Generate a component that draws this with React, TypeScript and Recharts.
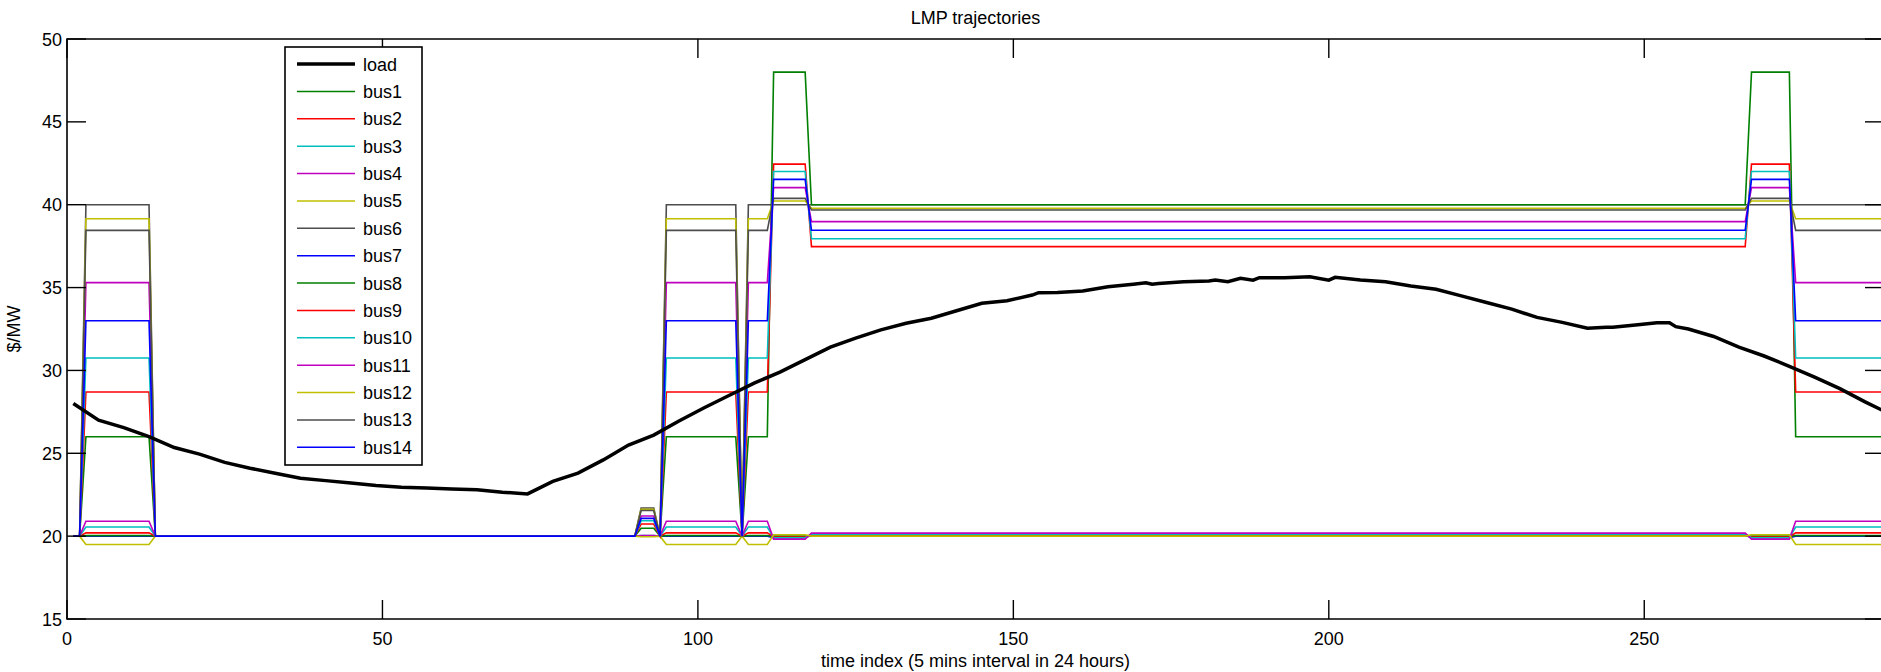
import { LineChart, Line, XAxis, YAxis, ReferenceArea } from 'recharts';

const CHART_W = 1890;
const CHART_H = 672;
const PLOT_LEFT = 67;
const PLOT_TOP = 39;
const PLOT_RIGHT_GAP = 6;
const PLOT_BOTTOM_GAP = 53;
const PLOT_W = CHART_W - PLOT_LEFT - PLOT_RIGHT_GAP;
const PLOT_H = CHART_H - PLOT_TOP - PLOT_BOTTOM_GAP;
const X_AXIS_H = 30;
const Y_AXIS_W = 60;
const X_TICK_MARGIN = 26;
const Y_TICK_MARGIN = 5;
const TICK_LEN = 19;
const FONT = '"Liberation Sans", Arial, Helvetica, sans-serif';

const xTicks = [0, 50, 100, 150, 200, 250];
const yTicks = [15, 20, 25, 30, 35, 40, 45, 50];

// system load (scaled to the price axis), read roughly every 4th interval
const loadIdx = [
  1, 5, 9, 13, 17, 21, 25, 29, 33, 37, 41, 45, 49, 53, 57, 61, 65, 69, 73, 77,
  81, 85, 89, 93, 97, 101, 105, 109, 113, 117, 121, 125, 129, 133, 137, 141,
  145, 149, 153, 154, 157, 161, 165, 169, 171, 172, 173, 177, 181, 182, 184,
  186, 188, 189, 193, 197, 200, 201, 205, 209, 213, 217, 221, 225, 229, 233,
  237, 241, 244, 245, 249, 252, 254, 255, 257, 261, 265, 269, 273, 277, 281,
  285, 288,
];
const loadVal = [
  28.0, 27.0, 26.55, 26.0, 25.35, 24.95, 24.45, 24.1, 23.8, 23.5, 23.35, 23.2,
  23.05, 22.95, 22.9, 22.85, 22.8, 22.65, 22.55, 23.3, 23.8, 24.6, 25.5, 26.1,
  26.95, 27.75, 28.5, 29.25, 29.9, 30.65, 31.4, 31.95, 32.45, 32.85, 33.15,
  33.6, 34.05, 34.2, 34.55, 34.69, 34.7, 34.8, 35.05, 35.2, 35.29, 35.2, 35.25,
  35.35, 35.4, 35.45, 35.35, 35.56, 35.45, 35.6, 35.6, 35.65, 35.45, 35.62,
  35.45, 35.35, 35.1, 34.9, 34.5, 34.1, 33.7, 33.2, 32.9, 32.55, 32.6, 32.6,
  32.75, 32.88, 32.88, 32.64, 32.5, 32.05, 31.4, 30.87, 30.25, 29.6, 28.9,
  28.1, 27.55,
];

// intervals where the bus prices switch level, and which level they sit at
const busIdx = [1, 2, 3, 13, 14, 90, 91, 93, 94, 95, 106, 107, 108, 111, 112, 117, 118, 266, 267, 273, 274, 288];
const busPhase = [
  'base', 'base', 'block', 'block', 'base', 'base', 'bump', 'bump', 'base', 'block', 'block',
  'base', 'block', 'block', 'peak', 'peak', 'mid', 'mid', 'peak', 'peak', 'block', 'block',
];
const BASE_PRICE = 20;

// price per bus at each level: [block, bump, peak, mid]
const bus1 = [20.03, 20.01, 20.0, 20.03];
const bus2 = [20.2, 20.02, 19.95, 20.07];
const bus3 = [20.55, 20.03, 19.9, 20.12];
const bus4 = [20.9, 20.04, 19.82, 20.18];
const bus5 = [19.5, 19.96, 20.08, 20.0];
const bus6 = [40.0, 21.7, 40.0, 40.0];
const bus7 = [20.0, 20.0, 19.9, 20.05];
const bus8 = [26.0, 20.48, 48.0, 40.0];
const bus9 = [28.7, 20.73, 42.45, 37.47];
const bus10 = [30.75, 20.93, 42.0, 37.95];
const bus11 = [35.3, 21.22, 41.03, 38.98];
const bus12 = [39.15, 21.62, 40.22, 39.78];
const bus13 = [38.45, 21.55, 40.38, 39.68];
const bus14 = [33.0, 21.07, 41.53, 38.46];

const GREEN = '#008000';
const RED = '#ff0000';
const CYAN = '#00bfbf';
const MAGENTA = '#bf00bf';
const YELLOW = '#bfbf00';
const GRAY = '#4d4d4d';
const BLUE = '#0000ff';

const buses = [
  { name: 'bus1', color: GREEN, levels: bus1 },
  { name: 'bus2', color: RED, levels: bus2 },
  { name: 'bus3', color: CYAN, levels: bus3 },
  { name: 'bus4', color: MAGENTA, levels: bus4 },
  { name: 'bus5', color: YELLOW, levels: bus5 },
  { name: 'bus6', color: GRAY, levels: bus6 },
  { name: 'bus7', color: BLUE, levels: bus7 },
  { name: 'bus8', color: GREEN, levels: bus8 },
  { name: 'bus9', color: RED, levels: bus9 },
  { name: 'bus10', color: CYAN, levels: bus10 },
  { name: 'bus11', color: MAGENTA, levels: bus11 },
  { name: 'bus12', color: YELLOW, levels: bus12 },
  { name: 'bus13', color: GRAY, levels: bus13 },
  { name: 'bus14', color: BLUE, levels: bus14 },
];

const slot: Record<string, number> = { block: 0, bump: 1, peak: 2, mid: 3 };

const loadData = loadIdx.map((x, i) => ({ x, y: loadVal[i] }));
const busData = (levels: number[]) =>
  busIdx.map((x, i) => ({ x, y: busPhase[i] === 'base' ? BASE_PRICE : levels[slot[busPhase[i]]] }));

// bus7 sits under bus1 at the 20 line
const drawOrder = ['bus7', 'bus1', 'bus2', 'bus3', 'bus4', 'bus5', 'bus6', 'bus8', 'bus9', 'bus10', 'bus11', 'bus12', 'bus13', 'bus14'];

function BottomTick(props: any) {
  const { x, y, payload } = props;
  const axisY = y - X_TICK_MARGIN;
  return (
    <g>
      <line x1={x} x2={x} y1={axisY} y2={axisY - TICK_LEN} stroke="#000" strokeWidth={1.4} />
      <line x1={x} x2={x} y1={axisY - PLOT_H} y2={axisY - PLOT_H + TICK_LEN} stroke="#000" strokeWidth={1.4} />
      <text x={x} y={y} textAnchor="middle" fontSize={18} fontFamily={FONT} fill="#000">
        {payload.value}
      </text>
    </g>
  );
}

function LeftTick(props: any) {
  const { x, y, payload } = props;
  const axisX = x + Y_TICK_MARGIN;
  return (
    <g>
      <line x1={axisX} x2={axisX + TICK_LEN} y1={y} y2={y} stroke="#000" strokeWidth={1.4} />
      <line x1={axisX + PLOT_W - TICK_LEN} x2={axisX + PLOT_W} y1={y} y2={y} stroke="#000" strokeWidth={1.4} />
      <text x={x} y={y + 6.5} textAnchor="end" fontSize={18} fontFamily={FONT} fill="#000">
        {payload.value}
      </text>
    </g>
  );
}

export default function App() {
  const legendItems = [{ name: 'load', color: '#000', width: 3.5 }].concat(
    buses.map((b) => ({ name: b.name, color: b.color, width: 1.5 }))
  );

  return (
    <div
      style={{
        position: 'absolute',
        left: 0,
        top: 0,
        width: 1881,
        height: 672,
        overflow: 'hidden',
        background: '#fff',
      }}
    >
      <LineChart
        width={CHART_W}
        height={CHART_H}
        margin={{
          top: PLOT_TOP,
          right: PLOT_RIGHT_GAP,
          bottom: PLOT_BOTTOM_GAP - X_AXIS_H,
          left: PLOT_LEFT - Y_AXIS_W,
        }}
      >
        <XAxis
          dataKey="x"
          type="number"
          domain={[0, 288]}
          ticks={xTicks}
          interval={0}
          height={X_AXIS_H}
          axisLine={false}
          tickLine={false}
          tickSize={0}
          tickMargin={X_TICK_MARGIN}
          tick={<BottomTick />}
          allowDecimals={false}
        />
        <YAxis
          type="number"
          domain={[15, 50]}
          ticks={yTicks}
          interval={0}
          width={Y_AXIS_W}
          axisLine={false}
          tickLine={false}
          tickSize={0}
          tickMargin={Y_TICK_MARGIN}
          tick={<LeftTick />}
        />
        {drawOrder.map((name) => {
          const b = buses.find((s) => s.name === name)!;
          return (
            <Line
              key={b.name}
              data={busData(b.levels)}
              dataKey="y"
              name={b.name}
              type="linear"
              stroke={b.color}
              strokeWidth={1.6}
              dot={false}
              activeDot={false}
              isAnimationActive={false}
            />
          );
        })}
        <Line
          data={loadData}
          dataKey="y"
          name="load"
          type="linear"
          stroke="#000"
          strokeWidth={3.5}
          dot={false}
          activeDot={false}
          isAnimationActive={false}
        />
        <ReferenceArea x1={0} x2={288} y1={15} y2={50} fill="none" stroke="#000" strokeWidth={1.6} />
      </LineChart>

      <svg
        width={1881}
        height={672}
        style={{ position: 'absolute', left: 0, top: 0, pointerEvents: 'none' }}
        fontFamily={FONT}
      >
        <text x={PLOT_LEFT + PLOT_W / 2} y={24} textAnchor="middle" fontSize={18} fill="#000">
          LMP trajectories
        </text>
        <text x={PLOT_LEFT + PLOT_W / 2} y={667} textAnchor="middle" fontSize={18} fill="#000">
          time index (5 mins interval in 24 hours)
        </text>
        <text x={20} y={329} textAnchor="middle" fontSize={18} fill="#000" transform="rotate(-90 20 329)">
          $/MW
        </text>

        <rect x={285} y={47} width={137} height={418} fill="#fff" stroke="#000" strokeWidth={1.6} />
        {legendItems.map((it, i) => {
          const cy = 64 + i * 27.38;
          return (
            <g key={it.name}>
              <line x1={297} x2={355} y1={cy} y2={cy} stroke={it.color} strokeWidth={it.width} />
              <text x={363} y={cy + 6.5} fontSize={18} fill="#000">
                {it.name}
              </text>
            </g>
          );
        })}
      </svg>
    </div>
  );
}
